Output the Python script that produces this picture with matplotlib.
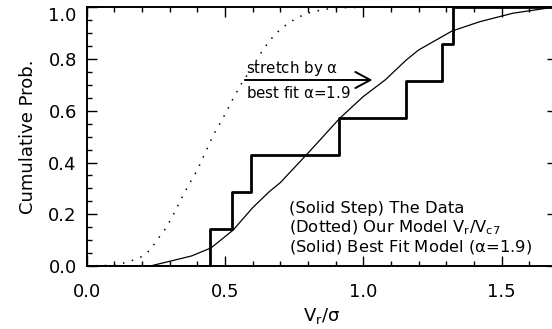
import matplotlib
matplotlib.use("Agg")
import matplotlib.pyplot as plt
from matplotlib.ticker import MultipleLocator

plt.rcParams['font.family'] = ['DejaVu Sans']
plt.rcParams['mathtext.default'] = 'regular'

# Data: step function (empirical CDF of the data)
step_x = [0.0, 0.448, 0.526, 0.596, 0.913, 1.153, 1.286, 1.324, 1.70]
step_y = [0.0, 0.143, 0.286, 0.429, 0.571, 0.714, 0.857, 1.0, 1.0]

# Dotted model curve (V_r / V_c7)
model_x = [0.0, 0.10, 0.14, 0.17, 0.205, 0.23, 0.26, 0.28, 0.31, 0.34, 0.37, 0.40,
           0.43, 0.46, 0.49, 0.53, 0.56, 0.60, 0.64, 0.68, 0.73, 0.79, 0.85, 0.90, 1.0, 1.70]
model_y = [0.0, 0.003, 0.013, 0.023, 0.039, 0.062, 0.108, 0.135, 0.19, 0.255, 0.315, 0.37,
           0.44, 0.51, 0.565, 0.648, 0.705, 0.77, 0.84, 0.895, 0.94, 0.975, 0.99, 0.998, 1.0, 1.0]

# Solid best-fit curve (alpha = 1.9)
fit_x = [0.0, 0.23, 0.30, 0.38, 0.45, 0.53, 0.60, 0.66, 0.70, 0.80, 0.915, 1.0, 1.08,
         1.155, 1.20, 1.32, 1.42, 1.54, 1.66, 1.70]
fit_y = [0.0, 0.0, 0.018, 0.039, 0.07, 0.139, 0.225, 0.287, 0.322, 0.436, 0.571, 0.655, 0.72,
         0.796, 0.835, 0.908, 0.944, 0.977, 0.996, 1.0]

xticks = [0.0, 0.5, 1.0, 1.5]
yticks = [0.0, 0.2, 0.4, 0.6, 0.8, 1.0]

fig = plt.figure(figsize=(5.52, 3.29), dpi=100)
ax = fig.add_axes([86.5 / 552, (329 - 266) / 329, (557 - 86.5) / 552, 258.7 / 329])

ax.step(step_x, step_y, where='post', color='black', lw=2.0)
ax.plot(model_x, model_y, color='black', lw=1.1, linestyle=(0, (1, 5)))
ax.plot(fit_x, fit_y, color='black', lw=0.9)

ax.set_xlim(0, 1.7)
ax.set_ylim(0, 1.0)
ax.set_xticks(xticks)
ax.set_xticklabels([f"{v:.1f}" for v in xticks])
ax.set_yticks(yticks)
ax.set_yticklabels([f"{v:.1f}" for v in yticks])
ax.xaxis.set_minor_locator(MultipleLocator(0.1))
ax.yaxis.set_minor_locator(MultipleLocator(0.05))
ax.tick_params(which='both', direction='in', top=True, right=True, width=1.0, colors='black')
ax.tick_params(which='major', length=7.2, labelsize=13)
ax.tick_params(which='minor', length=3.6)
ax.tick_params(axis='x', which='major', pad=12)
ax.tick_params(axis='y', which='major', pad=7)
for s in ax.spines.values():
    s.set_linewidth(1.4)

ax.set_xlabel("V$_{r}$/\u03c3", fontsize=13, labelpad=4)
ax.set_ylabel("Cumulative Prob.", fontsize=13, labelpad=8)

# top label shifted down like the original
ax.get_yticklabels()[-1].set_va('top')

# arrow annotation
ax.annotate("", xy=(1.033, 0.719), xytext=(0.572, 0.719),
            arrowprops=dict(arrowstyle='->,head_length=1.08,head_width=0.58', color='black',
                            lw=1.4, mutation_scale=10, shrinkA=0, shrinkB=0))
ax.text(0.575, 0.762, r"stretch by $\alpha$", fontsize=10.8, ha='left', va='center')
ax.text(0.575, 0.668, r"best fit $\alpha$=1.9", fontsize=10.8, ha='left', va='center')

# legend text
ax.text(0.732, 0.222, "(Solid Step) The Data", fontsize=11.8, ha='left', va='center')
ax.text(0.732, 0.146, "(Dotted) Our Model V$_{r}$/V$_{c7}$", fontsize=11.8, ha='left', va='center')
ax.text(0.732, 0.074, r"(Solid) Best Fit Model ($\alpha$=1.9)", fontsize=11.8, ha='left', va='center')

fig.savefig("out.png", dpi=100)
